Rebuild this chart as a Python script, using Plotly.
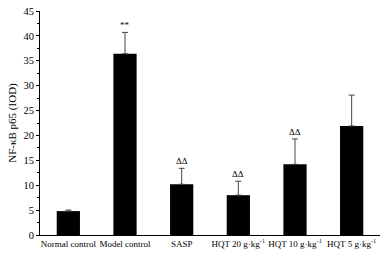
import plotly.graph_objects as go

categories = ["Normal control", "Model control", "SASP",
              "HQT 20 g·kg<sup>-1</sup>", "HQT 10 g·kg<sup>-1</sup>", "HQT 5 g·kg<sup>-1</sup>"]
values = [4.8, 36.4, 10.2, 8.0, 14.2, 21.9]
errors = [0.2, 4.3, 3.2, 2.8, 5.1, 6.2]
marks = ["", "**", "ΔΔ", "ΔΔ", "ΔΔ", ""]
y_ticks = [0, 5, 10, 15, 20, 25, 30, 35, 40, 45]

fig = go.Figure()
fig.add_trace(go.Bar(
    x=categories, y=values, width=0.41,
    marker=dict(color="black", line=dict(width=0)),
    error_y=dict(type="data", array=errors, arrayminus=[0]*len(errors),
                 symmetric=False, color="#444", thickness=1, width=3),
))
for c, v, e, m in zip(categories, values, errors, marks):
    if m:
        fig.add_annotation(x=c, y=v + e, text=m, showarrow=False, yanchor="bottom",
                           yshift=0, font=dict(size=9, color="black",
                                               family="Liberation Serif"))

fig.update_layout(
    width=384, height=256,
    margin=dict(l=40, r=4, t=11, b=21),
    paper_bgcolor="white", plot_bgcolor="white",
    showlegend=False,
    font=dict(family="Liberation Serif", color="black", size=9),
    bargap=0.59,
)
fig.update_xaxes(showline=True, linecolor="black", linewidth=1,
                 ticks="", tickfont=dict(size=9), showgrid=False)
fig.update_yaxes(range=[0, 45], tickvals=y_ticks, showline=True, linecolor="black",
                 linewidth=1, ticks="outside", ticklen=3, tickcolor="black",
                 minor=dict(dtick=2.5, ticks="outside", ticklen=2, tickcolor="black"),
                 showgrid=False, zeroline=False, tickfont=dict(size=10.5),
                 title=dict(text="NF-κB p65 (IOD)", font=dict(size=11), standoff=4))
fig.write_html("out.html", config={"displayModeBar": False},
               post_script="document.body.style.margin='0';document.body.style.overflow='hidden';")
